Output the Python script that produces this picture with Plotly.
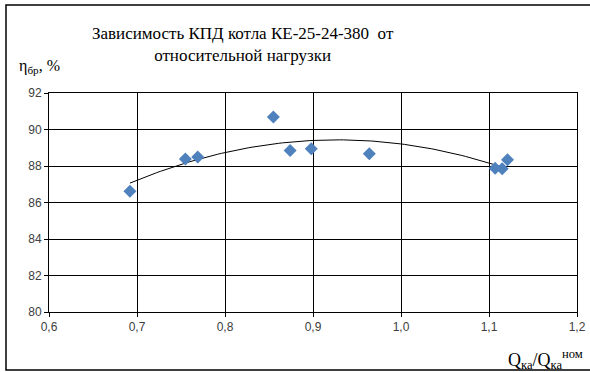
import numpy as np
import plotly.graph_objects as go

# Relative boiler load Q/Q_nom and gross efficiency, %
load_ratio = [0.692, 0.755, 0.769, 0.855, 0.874, 0.898, 0.964, 1.107, 1.115, 1.121]
efficiency = [86.61, 88.38, 88.50, 90.69, 88.85, 88.94, 88.67, 87.87, 87.85, 88.34]

x_ticks = [0.6, 0.7, 0.8, 0.9, 1.0, 1.1, 1.2]
x_tick_text = ["0,6", "0,7", "0,8", "0,9", "1,0", "1,1", "1,2"]
y_ticks = [80, 82, 84, 86, 88, 90, 92]

# Second-order polynomial trend through the measured points
coef = np.polyfit(load_ratio, efficiency, 2)
trend_x = np.linspace(min(load_ratio), max(load_ratio), 100)
trend_y = np.polyval(coef, trend_x)

fig = go.Figure()
fig.add_trace(go.Scatter(
    x=trend_x, y=trend_y, mode="lines",
    line=dict(color="black", width=1), hoverinfo="skip", showlegend=False,
))
fig.add_trace(go.Scatter(
    x=load_ratio, y=efficiency, mode="markers",
    marker=dict(symbol="diamond", size=10, color="#4F81BD"),
    showlegend=False,
))

axis_font = dict(family="Liberation Sans, Arial, sans-serif", size=12, color="#404040")
common = dict(
    showgrid=True, gridcolor="#000000", gridwidth=1,
    showline=True, linecolor="#000000", linewidth=1, mirror=True,
    ticks="outside", ticklen=4, tickcolor="#000000",
    tickfont=axis_font, zeroline=False, automargin=False,
)
fig.update_xaxes(range=[0.6, 1.2], tickvals=x_ticks, ticktext=x_tick_text, **common)
fig.update_yaxes(range=[80, 92], tickvals=y_ticks, **common)

serif = "Liberation Serif, Times New Roman, serif"
PW, PH = 528, 219  # plot area in px
fig.update_layout(
    template="none",
    width=590, height=372,
    margin=dict(l=49, r=13, t=93, b=60, pad=0),
    paper_bgcolor="white", plot_bgcolor="white",
    annotations=[
        dict(text="Зависимость КПД котла КЕ-25-24-380  от<br>относительной нагрузки",
             xref="paper", yref="paper", x=(243 - 49) / PW, y=(219 + 26) / PH,
             showarrow=False, xanchor="center", yanchor="bottom", align="center",
             font=dict(family=serif, size=17, color="black")),
        dict(text="η<sub>бр</sub>, %", xref="paper", yref="paper",
             x=(17 - 49) / PW, y=(219 + 15) / PH, showarrow=False,
             xanchor="left", yanchor="bottom",
             font=dict(family=serif, size=16, color="black")),
        dict(text="Q<sub>ка</sub>/Q<sub>ка</sub><sup>ном</sup>", xref="paper", yref="paper",
             x=(585 - 49) / PW, y=-33 / PH, showarrow=False,
             xanchor="right", yanchor="top",
             font=dict(family=serif, size=18, color="black")),
    ],
    shapes=[
        dict(type="rect", xref="paper", yref="paper",
             x0=-43 / PW, x1=(596 - 49) / PW, y0=-58 / PH, y1=(PH + 88) / PH,
             line=dict(color="black", width=1.5), fillcolor="rgba(0,0,0,0)"),
    ],
)

fig.write_html("out.html")
